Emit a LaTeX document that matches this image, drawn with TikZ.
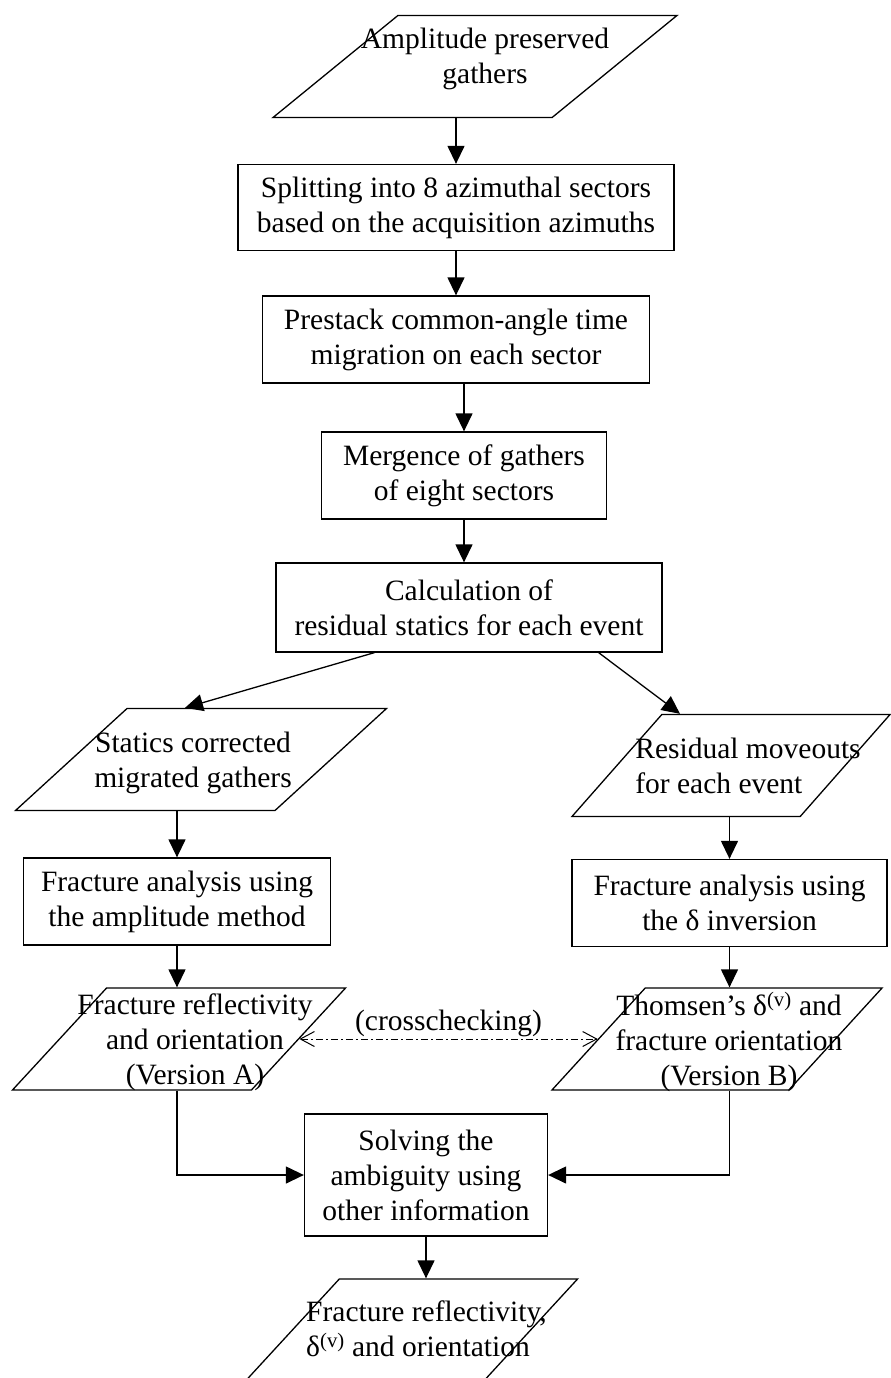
\documentclass[tikz,border=0pt]{standalone}
\usepackage{fontspec}
\setmainfont{Liberation Serif}
\usetikzlibrary{shapes.geometric, arrows.meta}

\tikzstyle{io} = [trapezium, trapezium stretches=true, trapezium left angle=57, trapezium right angle=123, minimum height=102pt, inner sep=1pt, draw=black, line width=1.3pt]
\tikzstyle{process} = [rectangle, minimum height=87pt, inner sep=0pt, text centered, align=center, draw=black, line width=1.3pt]
\tikzstyle{iotext} = [align=center, inner sep=0pt]
\tikzstyle{arrow} = [line width=1.3pt, -{Triangle[length=18pt,width=17pt]}]
\tikzstyle{crosscheck} = [line width=1pt, dash pattern=on 7pt off 3pt on 2pt off 3pt, {Straight Barb[length=14pt,width=15pt]}-{Straight Barb[length=14pt,width=15pt]}]

\begin{document}
\begin{tikzpicture}[x=1pt, y=1pt, node distance=135pt, font=\fontsize{29.5}{35}\selectfont]
  \useasboundingbox (0,0) rectangle (891,-1378);

  \node (in1) [io, minimum width=404pt, trapezium left angle=51, trapezium right angle=129, label={[iotext, xshift=10pt, yshift=8pt]center:Amplitude preserved\\gathers}] at (475,-66.5) {};
  \node (pr1) [process, below of=in1, xshift=-19pt, yshift=-6pt, minimum width=436pt, minimum height=86pt] {Splitting into 8 azimuthal sectors\\based on the acquisition azimuths};
  \node (pr2) [process, below of=pr1, yshift=3pt, minimum width=387pt] {Prestack common-angle time\\migration on each sector};
  \node (pr3) [process, below of=pr2, xshift=8pt, yshift=-1pt, minimum width=285pt] {Mergence of gathers\\of eight sectors};
  \node (pr4) [process, below of=pr3, xshift=5pt, yshift=3pt, minimum width=386pt, minimum height=89pt] {Calculation of\\residual statics for each event};

  \node (pL) [io, below of=pr4, xshift=-268pt, yshift=-17pt, minimum width=371pt, trapezium left angle=53, trapezium right angle=127, label={[iotext, xshift=-8pt, yshift=-3pt]center:Statics corrected\\migrated gathers}] {};
  \node (pR) [io, below of=pr4, xshift=262pt, yshift=-23pt, minimum width=318pt, label={[iotext, align=left, xshift=17pt]center:Residual moveouts\\for each event}] {};

  \node (fa) [process, below of=pL, xshift=-24pt, yshift=-7pt, minimum width=307pt] {Fracture analysis using\\the amplitude method};
  \node (fb) [process, below of=pR, xshift=-1.5pt, yshift=-2.5pt, minimum width=315pt] {Fracture analysis using\\the δ inversion};

  \node (pA) [io, below of=fa, xshift=2pt, yshift=-2.5pt, minimum width=333pt, label={[iotext, xshift=16pt, yshift=-3pt]center:Fracture reflectivity\\and orientation\\(Version A)}] {};
  \node (pB) [io, below of=fb, xshift=-12.5pt, yshift=-1pt, minimum width=330pt, label={[iotext, xshift=12pt, yshift=-3pt]center:Thomsen’s δ\textsuperscript{(v)} and\\fracture orientation\\(Version B)}] {};

  \node (solve) [process, below of=pA, xshift=247pt, yshift=-1pt, minimum width=243pt, minimum height=122pt] {Solving the\\ambiguity using\\other information};
  \node (pOut) [io, below of=solve, xshift=-14.5pt, yshift=-20pt, minimum width=332pt, label={[iotext, align=left, xshift=15pt, yshift=1.5pt]center:Fracture reflectivity,\\δ\textsuperscript{(v)} and orientation}] {};

  \draw [arrow] (in1.south -| pr1.north) -- (pr1.north);
  \draw [arrow] (pr1.south) -- (pr1.south |- pr2.north);
  \draw [arrow] (pr2.south -| pr3.north) -- (pr3.north);
  \draw [arrow] (pr3.south) -- (pr3.south |- pr4.north);
  \draw [arrow] ([xshift=99pt]pr4.south west) -- ([xshift=-16pt]pL.north);
  \draw [arrow] ([xshift=-64pt]pr4.south east) -- ([xshift=-51pt]pR.north);

  \draw [arrow] (pL.south -| fa.north) -- (fa.north);
  \draw [arrow] (fa.south) -- (fa.south |- pA.north);
  \draw [arrow] (pR.south -| fb.north) -- (fb.north);
  \draw [arrow] (fb.south) -- (fb.south |- pB.north);

  \draw [crosscheck] (pA.east) -- node[above, inner sep=2pt] {(crosschecking)} (pB.west);

  \draw [arrow] (pA.south -| fa.south) |- (solve.west);
  \draw [arrow] (pB.south -| fb.south) |- (solve.east);
  \draw [arrow] (solve.south) -- (solve.south |- pOut.north);
\end{tikzpicture}
\end{document}
